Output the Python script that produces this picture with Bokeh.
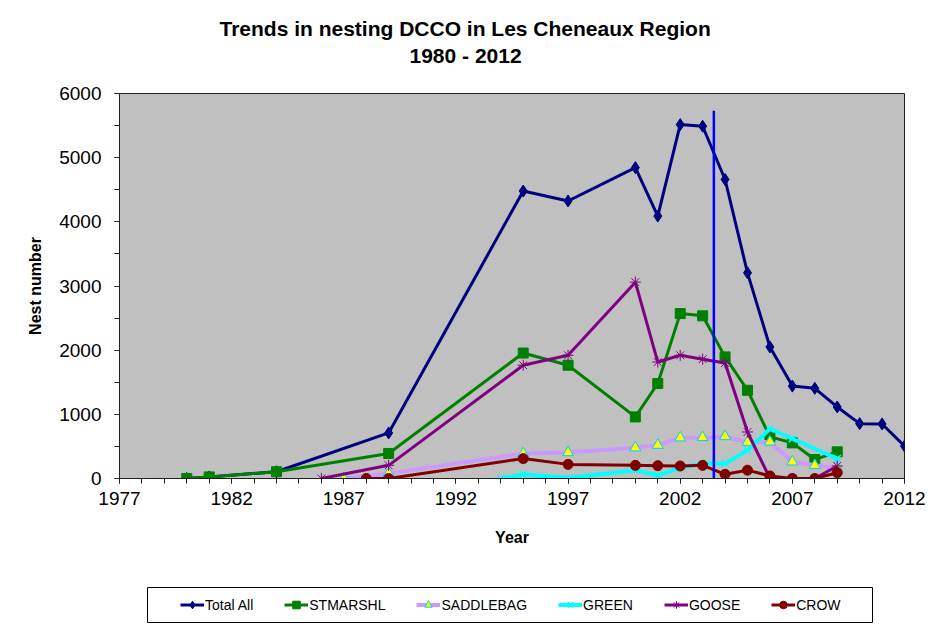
from bokeh.plotting import figure
from bokeh.layouts import column
from bokeh.models import Range1d, FixedTicker, Legend, LegendItem, Title, BoxAnnotation
from bokeh.embed import file_html
from bokeh.resources import INLINE

# ---------------- data ----------------
total_years = [1980, 1981, 1984, 1989, 1995, 1997, 2000, 2001, 2002, 2003,
               2004, 2005, 2006, 2007, 2008, 2009, 2010, 2011, 2012]
total_all = [0, 25, 105, 710, 4480, 4325, 4845, 4090, 5515, 5490,
             4660, 3205, 2050, 1440, 1405, 1115, 855, 850, 505]

stmarshl_years = [1980, 1981, 1984, 1989, 1995, 1997, 2000, 2001, 2002, 2003,
                  2004, 2005, 2006, 2007, 2008, 2009]
stmarshl = [0, 25, 105, 390, 1955, 1765, 960, 1480, 2570, 2535,
            1895, 1375, 650, 555, 295, 415]

saddlebag_years = [1987, 1989, 1995, 1997, 2000, 2001, 2002, 2003, 2004,
                   2005, 2006, 2007, 2008, 2009]
saddlebag = [0, 80, 390, 405, 480, 520, 635, 640, 655, 565, 570, 260, 205, 160]

green_years = [1994, 1995, 1997, 2000, 2001, 2002, 2003, 2004, 2005, 2006,
               2007, 2009]
green = [0, 62, 10, 130, 50, 165, 235, 235, 440, 775, 620, 310]

goose_years = [1986, 1989, 1995, 1997, 2000, 2001, 2002, 2003, 2004, 2005,
               2006, 2007, 2008, 2009]
goose = [0, 205, 1765, 1920, 3060, 1815, 1920, 1860, 1800, 725, 0, 0, 0, 195]

crow_years = [1988, 1989, 1995, 1997, 2000, 2001, 2002, 2003, 2004, 2005,
              2006, 2007, 2008, 2009]
crow = [0, 0, 310, 220, 205, 200, 195, 205, 65, 130, 40, 0, 0, 90]

cutoff_year = [2003.5]
cutoff_base = [0]
cutoff_top = [5730]

x_ticks = [1977, 1982, 1987, 1992, 1997, 2002, 2007, 2012]
y_ticks = [0, 1000, 2000, 3000, 4000, 5000, 6000]

FONT = "Liberation Sans"

series = [
    ("Total All", total_years, total_all,
     dict(line_color="#000080", line_width=3),
     dict(marker="diamond", size=12, fill_color="#000080", line_color="#000080")),
    ("STMARSHL", stmarshl_years, stmarshl,
     dict(line_color="#008000", line_width=3),
     dict(marker="square", size=10, fill_color="#008000", line_color="#008000")),
    ("SADDLEBAG", saddlebag_years, saddlebag,
     dict(line_color="#CC99FF", line_width=4),
     dict(marker="triangle", size=11, fill_color="#FFFF00", line_color="#00CCFF",
          line_width=1)),
    ("GREEN", green_years, green,
     dict(line_color="#00FFFF", line_width=4),
     dict(marker="x", size=10, line_color="#00FFFF", line_width=1.5)),
    ("GOOSE", goose_years, goose,
     dict(line_color="#800080", line_width=3),
     dict(marker="asterisk", size=11, line_color="#800080", line_width=1)),
    ("CROW", crow_years, crow,
     dict(line_color="#800000", line_width=3),
     dict(marker="circle", size=10, fill_color="#800000", line_color="#800000")),
]

# ---------------- main chart ----------------
p = figure(width=930, height=578, output_backend="svg", toolbar_location=None,
           x_range=Range1d(1977, 2012), y_range=Range1d(0, 6000),
           min_border_left=119, min_border_right=26,
           min_border_top=93, min_border_bottom=100)
p.title.visible = False
p.background_fill_color = "#C0C0C0"
p.border_fill_color = "white"
p.outline_line_color = "#202020"
p.outline_line_width = 1
p.xgrid.visible = False
p.ygrid.visible = False

p.xaxis.ticker = FixedTicker(ticks=x_ticks, minor_ticks=list(range(1977, 2013)))
p.yaxis.ticker = FixedTicker(ticks=y_ticks, minor_ticks=list(range(0, 6001, 500)))
for ax in (p.xaxis, p.yaxis):
    ax.axis_line_color = "#202020"
    ax.major_tick_line_color = "#202020"
    ax.minor_tick_line_color = "#202020"
    ax.major_tick_in = 0
    ax.major_tick_out = 5
    ax.minor_tick_in = 0
    ax.minor_tick_out = 5
    ax.major_label_text_font = FONT
    ax.major_label_text_font_size = "19px"
    ax.major_label_text_color = "black"
    ax.axis_label_text_font = FONT
    ax.axis_label_text_font_size = "16px"
    ax.axis_label_text_font_style = "bold"
    ax.axis_label_text_color = "black"
p.xaxis.major_label_standoff = 8
p.yaxis.major_label_standoff = 13
p.xaxis.axis_label = "Year"
p.yaxis.axis_label = "Nest number"
p.xaxis.axis_label_standoff = 21
p.yaxis.axis_label_standoff = 12

# spacer between the title block and the plot frame
p.add_layout(Title(text=" ", text_font_size="2px", standoff=22), "above")
p.add_layout(Title(text="1980 - 2012", align="left", offset=290, standoff=2,
                   text_font=FONT, text_font_size="21px", text_font_style="bold",
                   text_color="black"), "above")
p.add_layout(Title(text="Trends in nesting DCCO in Les Cheneaux Region", align="left",
                   offset=100, standoff=2,
                   text_font=FONT, text_font_size="21px", text_font_style="bold",
                   text_color="black"), "above")

for name, xs, ys, lkw, mkw in series:
    p.line(xs, ys, **lkw)
    p.scatter(xs, ys, **mkw)

p.segment(x0=cutoff_year, y0=cutoff_base, x1=cutoff_year, y1=cutoff_top,
          line_color="#0000FF", line_width=2.5)

# ---------------- legend strip (frame aligned with the chart's frame) ----------------
lf = figure(width=930, height=53, output_backend="svg", toolbar_location=None,
            x_range=Range1d(1977, 2012), y_range=Range1d(0, 6000),
            x_axis_location=None, y_axis_location=None,
            min_border=0, min_border_left=0, min_border_right=0,
            min_border_top=0, min_border_bottom=0)
lf.title.visible = False
lf.outline_line_color = None
lf.background_fill_color = "white"
lf.border_fill_color = "white"
lf.grid.visible = False

lf.add_layout(BoxAnnotation(left=28, right=753, bottom=9, top=44,
                            left_units="screen", right_units="screen",
                            bottom_units="screen", top_units="screen",
                            fill_color="white", fill_alpha=1,
                            line_color="black", line_width=1, line_alpha=1))

items = []
for name, xs, ys, lkw, mkw in series:
    lr = lf.line(xs, ys, visible=False, **lkw)
    mk = dict(mkw)
    mk["size"] = mk["size"] - 2
    sr = lf.scatter(xs, ys, visible=False, **mk)
    items.append(LegendItem(label=name, renderers=[lr, sr]))

legend = Legend(items=items, orientation="horizontal", location=(53, 9),
                spacing=31, padding=8, margin=0, glyph_width=24, glyph_height=19,
                label_height=19, label_standoff=1,
                label_text_font=FONT, label_text_font_size="14px",
                label_text_color="black",
                border_line_alpha=0, background_fill_alpha=0)
lf.add_layout(legend)

layout = column(p, lf, spacing=0)
open("out.html", "w").write(file_html(layout, INLINE))
